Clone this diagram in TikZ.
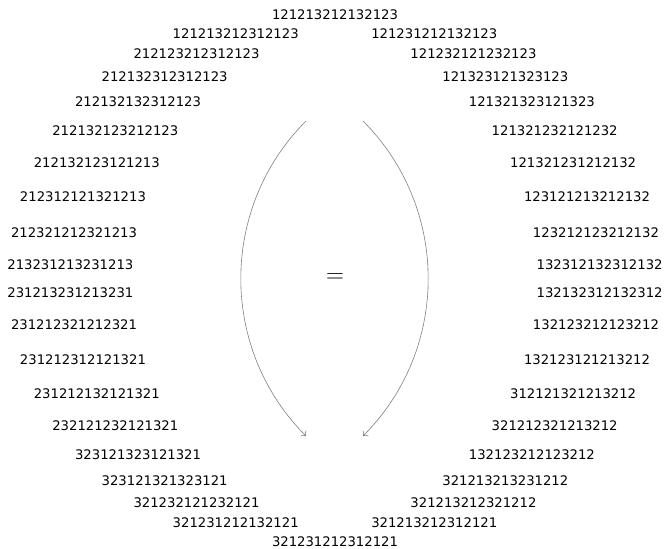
\documentclass[tikz,border=0pt]{standalone}
\usepackage{fontspec}
\setmainfont{DejaVu Sans}
\usepackage{tikz}
\usetikzlibrary{arrows.meta}

\begin{document}
\begin{tikzpicture}[x=1pt,y=1pt,
  word/.style={font=\fontsize{13.2}{16}\selectfont,inner sep=0pt},
  turn/.style={draw=black!50,line width=0.6pt,-{To[length=4pt,width=8pt]}}]
  \useasboundingbox (0,0) rectangle (665,549);
  \coordinate (c) at (335,270.5);
  \node[word] (top) at ([shift={(90:265 and 263.5)}]c) {121213212132123};
  \node[word] (bot) at ([shift={(-90:265 and 263.5)}]c) {321231212312121};
  % left half, angle counted from the top
  \foreach \n/\a/\w in {l1/22/121213212312123,l2/31.5/212123212312123,l3/40/212132312312123,
    l4/48/212132132312123,l5/56/212132123212123,l6/64/212132123121213,l7/72/212312121321213,
    l8/80/212321212321213,l9/87/213231213231213,l10/93/231213231213231,l11/100/231212321212321,
    l12/108/231212312121321,l13/116/231212132121321,l14/124/232121232121321,l15/132/323121323121321,
    l16/140/323121321323121,l17/148.5/321232121232121,l18/158/321231212132121}
    \node[word] (\n) at ([shift={(90+\a:265 and 263.5)}]c) {\w};
  % right half
  \foreach \n/\a/\w in {r1/22/121231212132123,r2/31.5/121232121232123,r3/40/121323121323123,
    r4/48/121321323121323,r5/56/121321232121232,r6/64/121321231212132,r7/72/123121213212132,
    r8/80/123212123212132,r9/87/132312132312132,r10/93/132132312132312,r11/100/132123212123212,
    r12/108/132123121213212,r13/116/312121321213212,r14/124/321212321213212,r15/132/132123212123212,
    r16/140/321213213231212,r17/148.5/321213212321212,r18/158/321213212312121}
    \node[word] (\n) at ([shift={(90-\a:265 and 263.5)}]c) {\w};
  \node (eq) at (c) {\fontsize{26}{30}\selectfont$=$};
  \coordinate (lt) at (306,428);
  \coordinate (lb) at (306,113);
  \coordinate (rt) at (363,428);
  \coordinate (rb) at (363,113);
  \draw[turn] (lt) to[bend right=45] (lb);
  \draw[turn] (rt) to[bend left=45] (rb);
\end{tikzpicture}
\end{document}
